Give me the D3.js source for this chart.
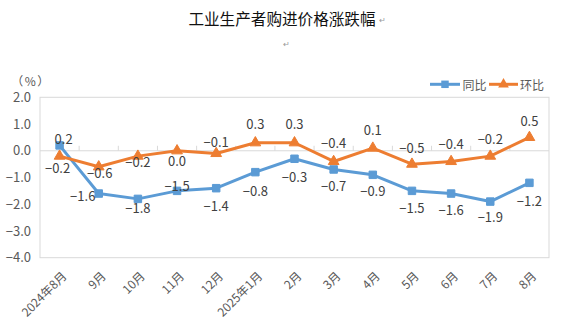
<!DOCTYPE html>
<html>
<head>
<meta charset="utf-8">
<script src="https://cdn.jsdelivr.net/npm/d3@7"></script>
<style>
  html, body { margin: 0; padding: 0; background: #fff; }
  svg { display: block; font-family: "Noto Sans CJK SC", "Noto Sans", sans-serif; }
</style>
</head>
<body>
<svg id="chart" width="566" height="334"></svg>
<script>
const categories = ['2024年8月','9月','10月','11月','12月','2025年1月','2月','3月','4月','5月','6月','7月','8月'];
const yoyValues = [0.2, -1.6, -1.8, -1.5, -1.4, -0.8, -0.3, -0.7, -0.9, -1.5, -1.6, -1.9, -1.2];
const momValues = [-0.2, -0.6, -0.2, 0.0, -0.1, 0.3, 0.3, -0.4, 0.1, -0.5, -0.4, -0.2, 0.5];
const seriesNames = ['同比', '环比'];
const yTicks = [2.0, 1.0, 0.0, -1.0, -2.0, -3.0, -4.0];
const titleText = '工业生产者购进价格涨跌幅';
const unitText = '（%）';

// label nudges (layout only)
const yoyLabelDx = [4, -16, 0, 0, 0, 0, 0, 0, 0, 0, 0, 0, 0];
const yoyLabelDy = [-7, 2, 9, -5, 17, 18, 18, 16, 16, 17, 16, 15, 18];
const momLabelDx = [-2, 1, 0, 0, 0, 0, 0, 0, 0, 0, 0, 0, 0];
const momLabelDy = [11, 6, 5, 10, -12, -19, -19, -19, -19, -17, -18, -18, -17];

const blue = '#5B9BD5', orange = '#ED7D31';
const svg = d3.select('#chart');
const L = 40, R = 549, T = 97.3, B = 257.7;

const x = d3.scaleBand().domain(categories).range([L, R]).padding(0);
const y = d3.scaleLinear().domain([-4, 2]).range([B, T]);
const cx = d => x(d) + x.bandwidth() / 2;

// Title
svg.append('text').attr('x', 282).attr('y', 18).attr('text-anchor', 'middle')
  .attr('dominant-baseline', 'central').attr('font-size', 15.6).attr('fill', '#111')
  .text(titleText);
svg.append('text').attr('x', 382).attr('y', 19).attr('text-anchor', 'middle')
  .attr('dominant-baseline', 'central').attr('font-size', 8).attr('fill', '#999').text('↵');
svg.append('text').attr('x', 286).attr('y', 43).attr('text-anchor', 'middle')
  .attr('dominant-baseline', 'central').attr('font-size', 8).attr('fill', '#999').text('↵');

// Unit
svg.append('text').attr('x', 31).attr('y', 80).attr('text-anchor', 'middle')
  .attr('dominant-baseline', 'central').attr('font-size', 12).attr('letter-spacing', 1.5)
  .attr('fill', '#595959').text(unitText);

// Plot border
svg.append('rect').attr('x', L).attr('y', T).attr('width', R - L).attr('height', B - T)
  .attr('fill', 'none').attr('stroke', '#d9d9d9').attr('stroke-width', 1);

// Y axis labels
const yAxis = d3.axisLeft(y).tickValues(yTicks).tickSize(0).tickPadding(9)
  .tickFormat(d3.format('.1f'));
const gy = svg.append('g').attr('transform', `translate(${L},0)`).call(yAxis);
gy.select('.domain').remove();
gy.selectAll('text').attr('font-size', 13).attr('fill', '#595959')
  .attr('font-family', '"Noto Sans CJK SC", sans-serif');

// Zero line with upward ticks at band boundaries
const y0 = y(0);
svg.append('line').attr('x1', L).attr('x2', R).attr('y1', y0).attr('y2', y0)
  .attr('stroke', '#d9d9d9').attr('stroke-width', 1);
const bounds = categories.slice(1).map(c => x(c));
svg.selectAll('.ztick').data(bounds).enter().append('line')
  .attr('x1', d => d).attr('x2', d => d).attr('y1', y0 - 5).attr('y2', y0)
  .attr('stroke', '#d9d9d9').attr('stroke-width', 1);

// X labels
svg.selectAll('.xlab').data(categories).enter().append('text')
  .attr('transform', d => `translate(${cx(d) + 4},${273}) rotate(-45)`)
  .attr('text-anchor', 'end').attr('dominant-baseline', 'central')
  .attr('font-size', 12).attr('fill', '#595959').text(d => d);

// Lines
const line = d3.line().x((d, i) => cx(categories[i])).y(d => y(d));
svg.append('path').datum(yoyValues).attr('d', line).attr('fill', 'none')
  .attr('stroke', blue).attr('stroke-width', 3).attr('stroke-linejoin', 'round');
svg.append('path').datum(momValues).attr('d', line).attr('fill', 'none')
  .attr('stroke', orange).attr('stroke-width', 3).attr('stroke-linejoin', 'round');

// Markers
const sq = d3.symbol().type(d3.symbolSquare).size(56);
const tri = d3.symbol().type(d3.symbolTriangle).size(50);
svg.selectAll('.m1').data(yoyValues).enter().append('path')
  .attr('d', sq).attr('transform', (d, i) => `translate(${cx(categories[i])},${y(d)})`)
  .attr('fill', blue).attr('stroke', blue).attr('stroke-width', 1);
svg.selectAll('.m2').data(momValues).enter().append('path')
  .attr('d', tri).attr('transform', (d, i) => `translate(${cx(categories[i])},${y(d)})`)
  .attr('fill', orange).attr('stroke', orange).attr('stroke-width', 1);

// Data labels
const fmt = d3.format('.1f');
svg.selectAll('.l1').data(yoyValues).enter().append('text')
  .attr('x', (d, i) => cx(categories[i]) + yoyLabelDx[i])
  .attr('y', (d, i) => y(d) + yoyLabelDy[i])
  .attr('text-anchor', 'middle').attr('dominant-baseline', 'central')
  .attr('font-size', 13).attr('fill', '#404040').text(d => fmt(d));
svg.selectAll('.l2').data(momValues).enter().append('text')
  .attr('x', (d, i) => cx(categories[i]) + momLabelDx[i])
  .attr('y', (d, i) => y(d) + momLabelDy[i])
  .attr('text-anchor', 'middle').attr('dominant-baseline', 'central')
  .attr('font-size', 13).attr('fill', '#404040').text(d => fmt(d));

// Legend
const ly = 84.3;
const leg = svg.append('g');
leg.append('line').attr('x1', 430).attr('x2', 460).attr('y1', ly).attr('y2', ly)
  .attr('stroke', blue).attr('stroke-width', 3);
leg.append('path').attr('d', sq).attr('transform', `translate(445,${ly})`).attr('fill', blue);
leg.append('text').attr('x', 462.5).attr('y', ly).attr('dominant-baseline', 'central')
  .attr('font-size', 12).attr('fill', '#595959').text(seriesNames[0]);
leg.append('line').attr('x1', 489).attr('x2', 518).attr('y1', ly).attr('y2', ly)
  .attr('stroke', orange).attr('stroke-width', 3);
leg.append('path').attr('d', tri).attr('transform', `translate(503.5,${ly})`).attr('fill', orange);
leg.append('text').attr('x', 520).attr('y', ly).attr('dominant-baseline', 'central')
  .attr('font-size', 12).attr('fill', '#595959').text(seriesNames[1]);
</script>
</body>
</html>
